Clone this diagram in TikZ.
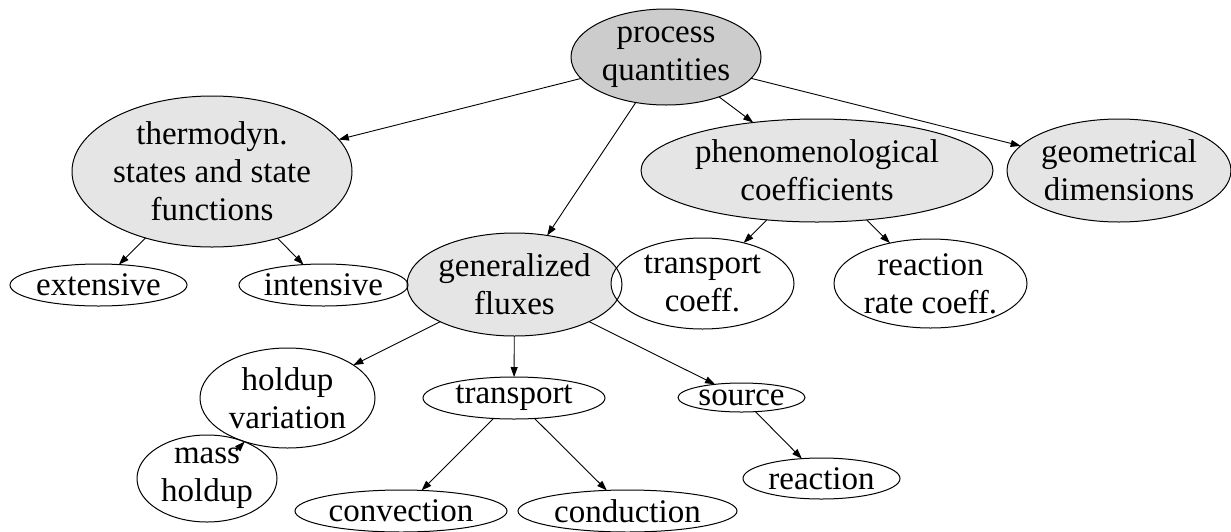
\documentclass[tikz,border=0pt]{standalone}
\usepackage{fontspec}
\setmainfont{Liberation Serif}
\usetikzlibrary{shapes.geometric,arrows.meta,calc}
\definecolor{gray80}{HTML}{CCCCCC}
\definecolor{gray90}{HTML}{E5E5E5}
\begin{document}
\begin{tikzpicture}[x=1pt,y=-1pt,
  blob/.style={ellipse, inner sep=0pt, outer sep=0pt, draw=none},
  txt/.style={font=\fontsize{33}{38}\selectfont, align=center, inner sep=0pt},
  rim/.style={draw=black, line width=1pt},
  arr/.style={-{Triangle[length=10pt,width=7pt]}, line width=0.9pt, draw=black},
  dark/.style={blob, fill=gray80},
  light/.style={blob, fill=gray90},
  plain/.style={blob, fill=white},
  sz/.style 2 args={minimum width=#1pt, minimum height=#2pt}]
\useasboundingbox (0,0) rectangle (1231,531);

% fills and texts
\node[dark,  sz={190}{96},  label={[txt]center:process\\quantities}] (pq) at (666,57) {};
\node[light, sz={280}{151}, label={[txt]center:thermodyn.\\states and state\\functions}] (th) at (212,171.5) {};
\node[light, sz={352}{103}, label={[txt]center:phenomenological\\coefficients}] (ph) at (817,170.5) {};
\node[light, sz={224}{103}, label={[txt]center:geometrical\\dimensions}] (ge) at (1119,170.5) {};
\node[light, sz={215}{103}, label={[txt]center:generalized\\fluxes}] (gf) at (514.5,284.5) {};
\node[plain, sz={177}{42},  label={[txt]center:extensive}] (ex) at (98.5,285) {};
\node[plain, sz={169}{42},  label={[txt]center:intensive}] (in) at (323.5,285) {};
\node[plain, sz={183}{91},  label={[txt]center:transport\\coeff.}] (tc) at (702.5,283.5) {};
\node[plain, sz={193}{89},  label={[txt]center:reaction\\rate coeff.}] (rr) at (930.5,283.5) {};
\node[plain, sz={175}{100}, label={[txt]center:holdup\\variation}] (hv) at (287.5,398) {};
\node[plain, sz={182}{42},  label={[txt]center:transport}] (tr) at (514,398) {};
\node[plain, sz={127}{29},  label={[txt]center:source}] (so) at (741.5,397.5) {};
\node[plain, sz={140}{87},  label={[txt]center:mass\\holdup}] (mh) at (207,478.5) {};
\node[plain, sz={157}{41},  label={[txt]center:reaction}] (re) at (821.5,478.5) {};
\node[plain, sz={212}{42},  label={[txt]center:convection}] (cv) at (401,511) {};
\node[plain, sz={219}{42},  label={[txt]center:conduction}] (cd) at (627.5,511) {};

% outlines on top of all fills
\foreach \nm in {pq,th,ph,ge,gf,ex,in,tc,rr,hv,tr,so,mh,re,cv,cd}
  \draw[rim] let \p1=($(\nm.east)-(\nm.center)$), \p2=($(\nm.south)-(\nm.center)$)
    in (\nm.center) ellipse [x radius=\x1, y radius=\y2];

% connectors
\draw[arr] (pq) -- (th);
\draw[arr] (pq) -- (gf);
\draw[arr] (pq) -- (ph);
\draw[arr] (pq) -- (ge);
\draw[arr] (th) -- (ex);
\draw[arr] (th) -- (in);
\draw[arr] (ph) -- (tc);
\draw[arr] (ph) -- (rr);
\draw[arr] (gf) -- (hv);
\draw[arr] (gf) -- (tr);
\draw[arr] (gf) -- (so);
\draw[arr] (tr) -- (cv);
\draw[arr] (tr) -- (cd);
\draw[arr] (so) -- (re);
\coordinate (mhtail) at (236,450.5);
\draw[arr] (mhtail) -- (hv);
\end{tikzpicture}
\end{document}
